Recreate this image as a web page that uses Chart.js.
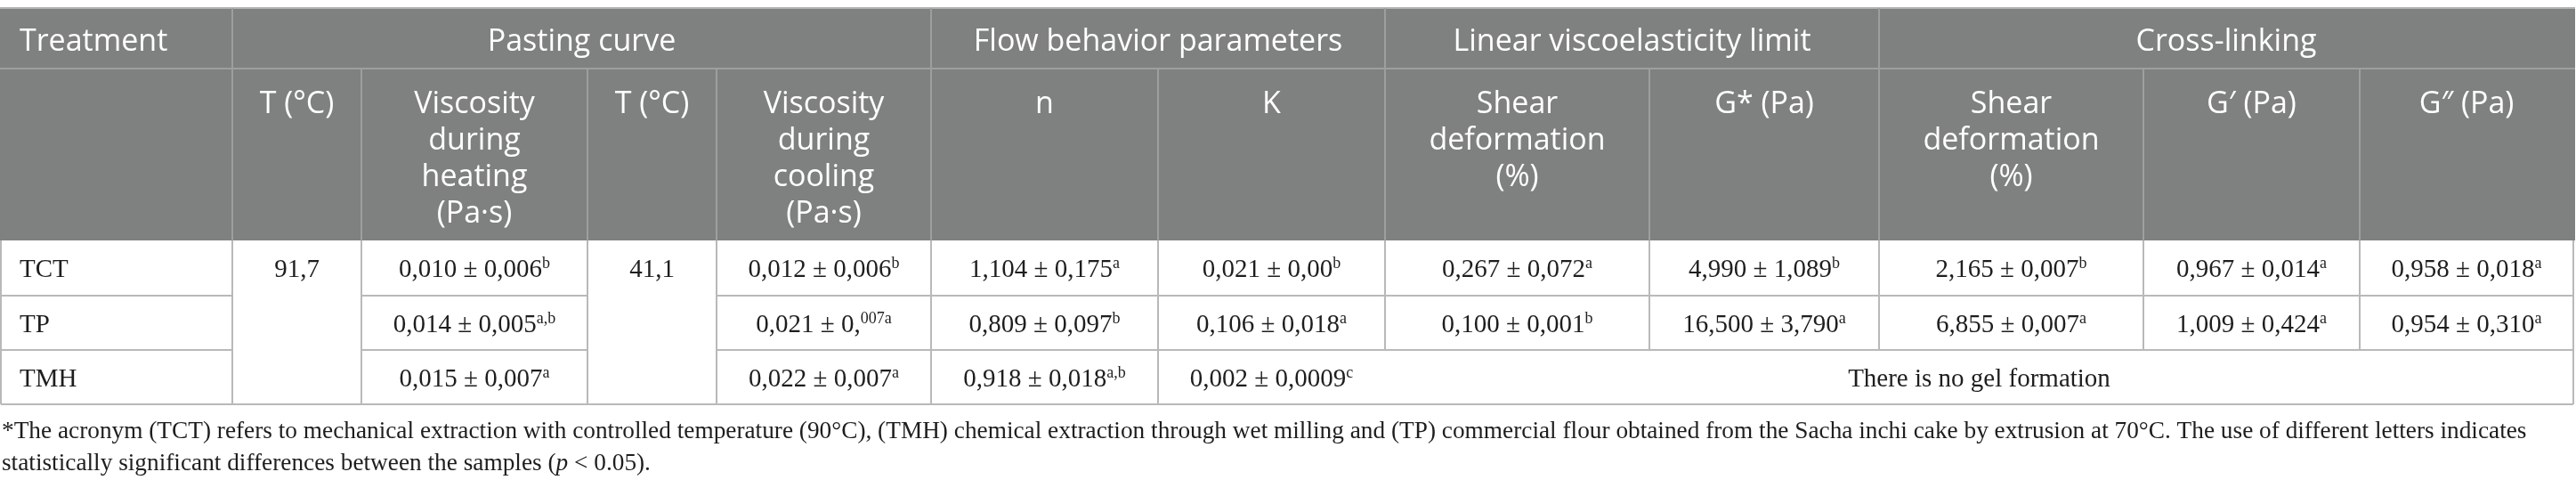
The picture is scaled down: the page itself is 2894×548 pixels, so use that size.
<!DOCTYPE html>
<html>
<head>
<meta charset="utf-8">
<script src="https://cdn.jsdelivr.net/npm/chart.js@4.4.0/dist/chart.umd.min.js"></script>
<style>
  html,body{margin:0;padding:0;background:#fff;overflow:hidden}
  canvas{display:block}
</style>
</head>
<body>
<canvas id="tbl" width="2894" height="548"></canvas>
<script>
const W=2894, H=548;

// table content
const treatments=["TCT","TP","TMH"];
const groups=["Pasting curve","Flow behavior parameters","Linear viscoelasticity limit","Cross-linking"];
const subHeads=[["T (°C)"],["Viscosity","during","heating","(Pa·s)"],["T (°C)"],["Viscosity","during","cooling","(Pa·s)"],
                ["n"],["K"],["Shear","deformation","(%)"],["G* (Pa)"],["Shear","deformation","(%)"],["G′ (Pa)"],["G″ (Pa)"]];
const tempHeating="91,7";
const tempCooling="41,1";
const viscHeating=["0,010 ± 0,006","0,014 ± 0,005","0,015 ± 0,007"];
const viscHeatingSig=["b","a,b","a"];
const viscCooling=["0,012 ± 0,006","0,021 ± 0,","0,022 ± 0,007"];
const viscCoolingSig=["b","007a","a"];
const flowN=["1,104 ± 0,175","0,809 ± 0,097","0,918 ± 0,018"];
const flowNSig=["a","b","a,b"];
const flowK=["0,021 ± 0,00","0,106 ± 0,018","0,002 ± 0,0009"];
const flowKSig=["b","a","c"];
const shearLinear=["0,267 ± 0,072","0,100 ± 0,001"];
const shearLinearSig=["a","b"];
const gStar=["4,990 ± 1,089","16,500 ± 3,790"];
const gStarSig=["b","a"];
const shearCross=["2,165 ± 0,007","6,855 ± 0,007"];
const shearCrossSig=["b","a"];
const gPrime=["0,967 ± 0,014","1,009 ± 0,424"];
const gPrimeSig=["a","a"];
const gDouble=["0,958 ± 0,018","0,954 ± 0,310"];
const gDoubleSig=["a","a"];
const noGel="There is no gel formation";
const footLine1="The acronym (TCT) refers to mechanical extraction with controlled temperature (90°C), (TMH) chemical extraction through wet milling and (TP) commercial flour obtained from the Sacha inchi cake by extrusion at 70°C. The use of different letters indicates";
const footLine2a="statistically significant differences between the samples (";
const footLine2b=" < 0.05).";

// layout (in scale units = px)
const COL=[1,261,406,660,805,1046,1301,1556,1853,2111,2408,2651,2891];
const ROW=[9,77,270,332,393,454];
const GROUP_SPAN=[[1,5],[5,7],[7,9],[9,12]];
const HEAD_BG="#7f8180", HEAD_LINE="#9d9f9e", BODY_LINE="#b9b9b9", TXT="#1e1e1e";
const SANS="'Open Sans'", SERIF="'Liberation Serif'";

function drawParts(ctx,parts,x,y,align,size,family){
  const font=p=>`${p.it?"italic ":""}${p.sup?Math.round(size*0.62):size}px ${family}`;
  let total=0;
  parts.forEach(p=>{ctx.font=font(p);p.w=ctx.measureText(p.t).width;total+=p.w;});
  let cx=align==="center"?x-total/2:x;
  parts.forEach(p=>{ctx.font=font(p);ctx.fillText(p.t,cx,p.sup?y-size*0.36:y);cx+=p.w;});
}
const val=(t,s)=>[{t},{t:s,sup:true}];

const tablePlugin={
  id:"tablePlugin",
  afterDraw(chart){
    const ctx=chart.ctx, xs=chart.scales.x, ys=chart.scales.y;
    const X=v=>xs.getPixelForValue(v), Y=v=>ys.getPixelForValue(v);
    const line=(x1,y1,x2,y2,c,w)=>{ctx.strokeStyle=c;ctx.lineWidth=w;ctx.beginPath();ctx.moveTo(X(x1),Y(y1));ctx.lineTo(X(x2),Y(y2));ctx.stroke();};
    ctx.save();
    ctx.textAlign="left"; ctx.textBaseline="alphabetic";

    // header block
    ctx.fillStyle=HEAD_BG;
    ctx.fillRect(X(COL[0]-1),Y(ROW[0]),X(COL[12]+2)-X(COL[0]-1),Y(ROW[2])-Y(ROW[0]));
    line(COL[0]-1,ROW[0],COL[12]+2,ROW[0],"#b4b4b4",2);
    line(COL[0]-1,ROW[1],COL[12]+2,ROW[1],HEAD_LINE,2);
    [COL[1],COL[5],COL[7],COL[9]].forEach(c=>line(c,ROW[0],c,ROW[1],HEAD_LINE,2));
    for(let i=1;i<12;i++) line(COL[i],ROW[1],COL[i],ROW[2],HEAD_LINE,2);

    ctx.fillStyle="#fff";
    drawParts(ctx,[{t:"Treatment"}],X(COL[0]+21),Y(ROW[0]+48),"left",34,SANS);
    groups.forEach((g,i)=>{const [a,b]=GROUP_SPAN[i];drawParts(ctx,[{t:g}],X((COL[a]+COL[b])/2),Y(ROW[0]+48),"center",34,SANS);});
    subHeads.forEach((lines,i)=>{
      const cx=(COL[i+1]+COL[i+2])/2;
      lines.forEach((l,k)=>drawParts(ctx,[{t:l}],X(cx),Y(ROW[1]+50+k*41),"center",34,SANS));
    });

    // body grid
    line(COL[0],ROW[2],COL[0],ROW[5],BODY_LINE,2);
    line(COL[12],ROW[2],COL[12],ROW[5],BODY_LINE,2);
    for(let i=1;i<12;i++) line(COL[i],ROW[2],COL[i],i<7?ROW[5]:ROW[4],BODY_LINE,2);
    [ROW[3],ROW[4]].forEach(r=>{
      line(COL[0],r,COL[1],r,BODY_LINE,2);
      line(COL[2],r,COL[3],r,BODY_LINE,2);
      line(COL[4],r,COL[12],r,BODY_LINE,2);
    });
    line(COL[0],ROW[5],COL[12],ROW[5],BODY_LINE,2);

    // body text
    ctx.fillStyle=TXT;
    const FS=29;
    const colVals=[null,null,[viscHeating,viscHeatingSig],null,[viscCooling,viscCoolingSig],[flowN,flowNSig],[flowK,flowKSig],
                   [shearLinear,shearLinearSig],[gStar,gStarSig],[shearCross,shearCrossSig],[gPrime,gPrimeSig],[gDouble,gDoubleSig]];
    treatments.forEach((t,r)=>{
      const by=ROW[r+2]+41;
      drawParts(ctx,[{t}],X(COL[0]+21),Y(by),"left",FS,SERIF);
      for(let c=2;c<12;c++){
        const cv=colVals[c];
        if(!cv||r>=cv[0].length) continue;
        drawParts(ctx,val(cv[0][r],cv[1][r]),X((COL[c]+COL[c+1])/2),Y(by),"center",FS,SERIF);
      }
    });
    drawParts(ctx,[{t:tempHeating}],X((COL[1]+COL[2])/2),Y(ROW[2]+41),"center",FS,SERIF);
    drawParts(ctx,[{t:tempCooling}],X((COL[3]+COL[4])/2),Y(ROW[2]+41),"center",FS,SERIF);
    drawParts(ctx,[{t:noGel}],X((COL[7]+COL[12])/2),Y(ROW[4]+41),"center",FS,SERIF);

    // footnote
    drawParts(ctx,[{t:"*"},{t:footLine1}],X(2),Y(492),"left",27.3,SERIF);
    drawParts(ctx,[{t:footLine2a},{t:"p",it:true},{t:footLine2b}],X(2),Y(528),"left",27.3,SERIF);
    ctx.restore();
  }
};

new Chart(document.getElementById("tbl"),{
  type:"scatter",
  data:{datasets:[]},
  options:{
    responsive:false, animation:false, devicePixelRatio:1, events:[],
    layout:{padding:0},
    plugins:{legend:{display:false},tooltip:{enabled:false}},
    scales:{
      x:{type:"linear",min:0,max:W,display:false},
      y:{type:"linear",min:0,max:H,reverse:true,display:false}
    }
  },
  plugins:[tablePlugin]
});
</script>
</body>
</html>
